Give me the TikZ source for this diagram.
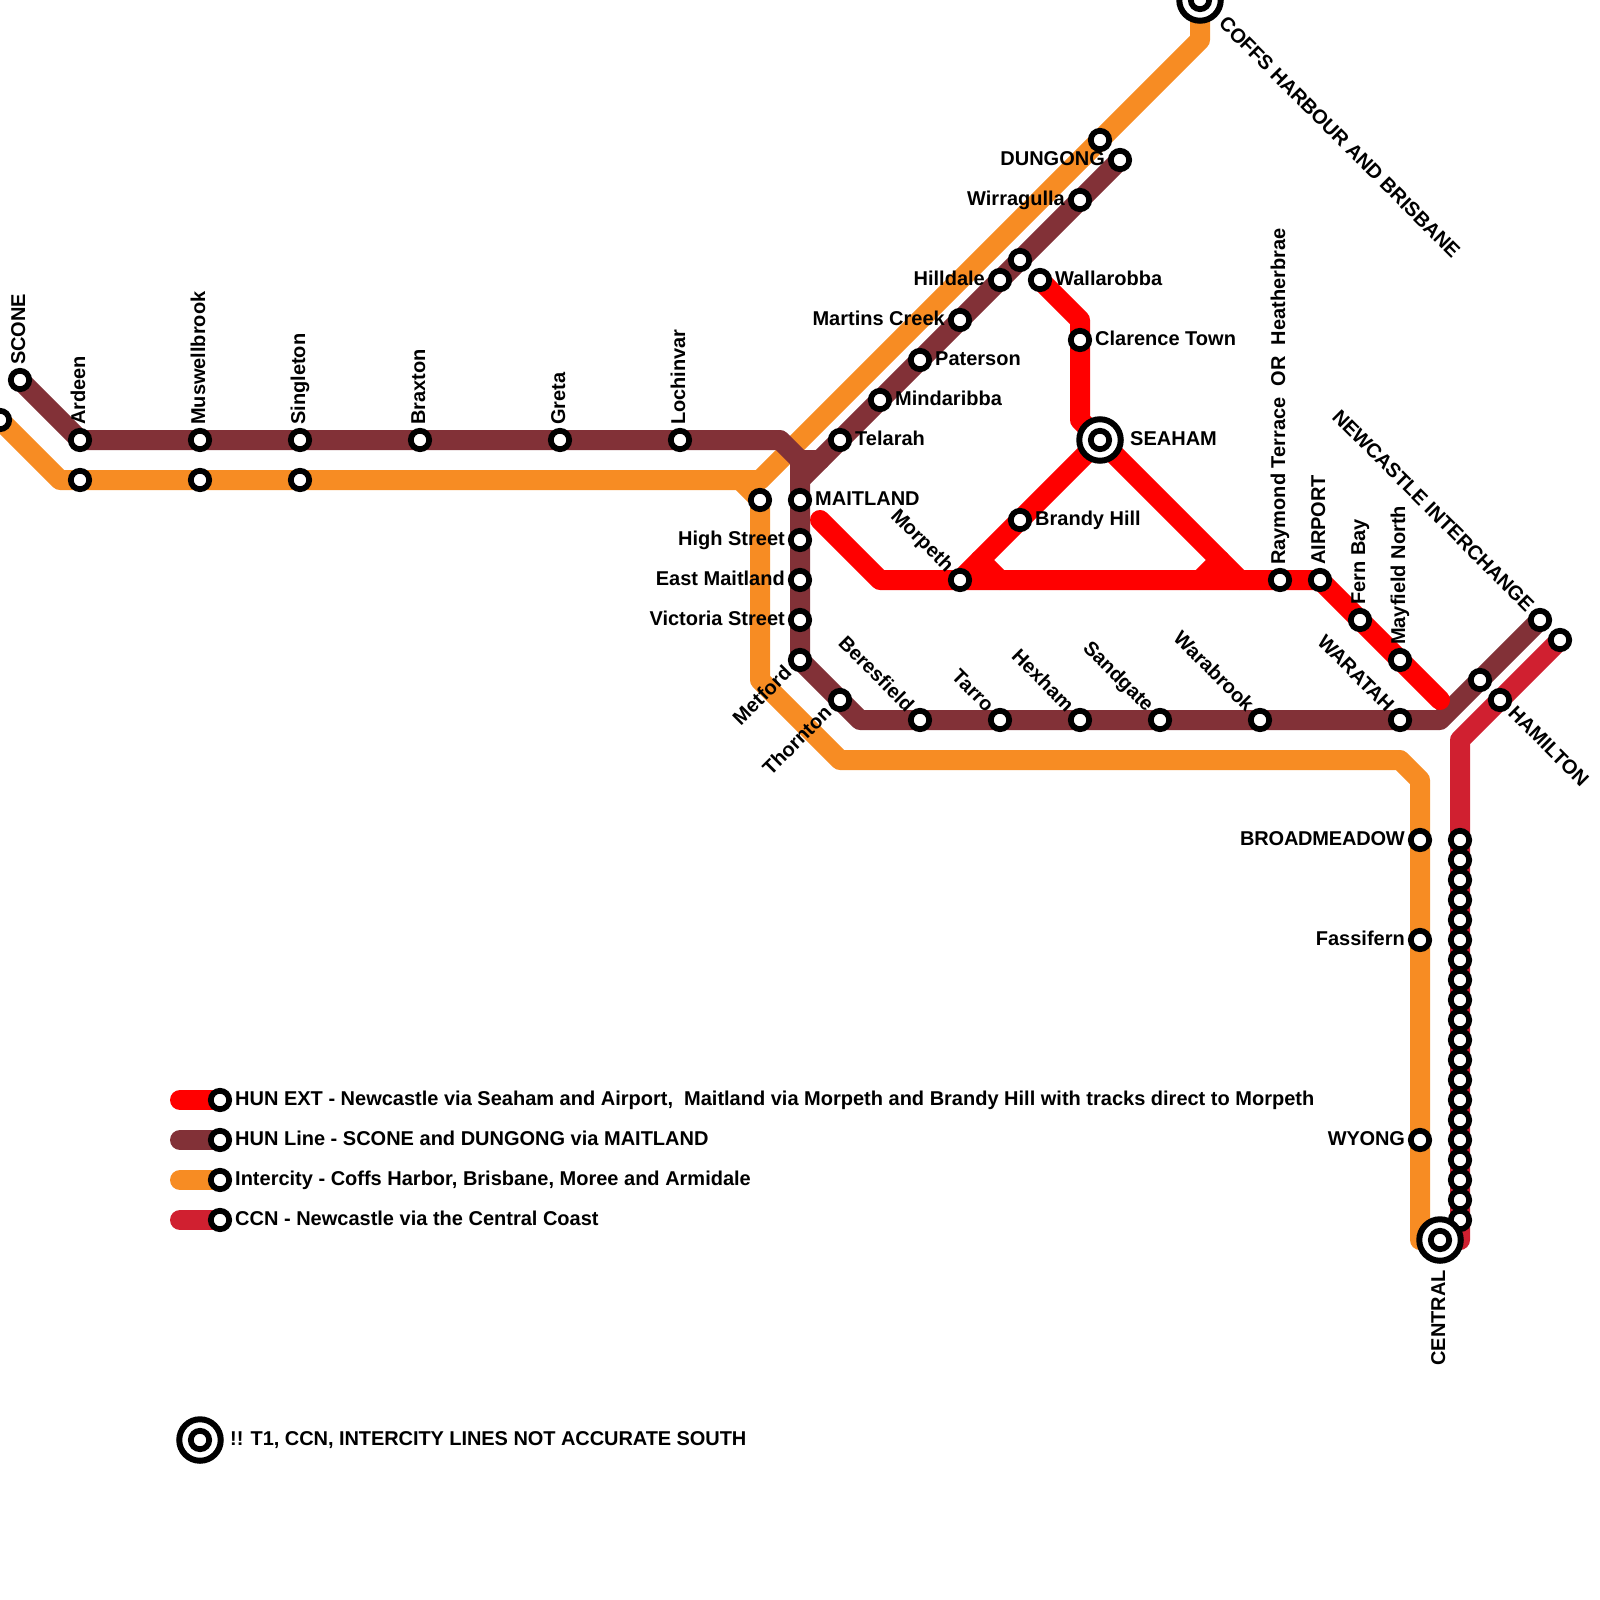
\documentclass[tikz,border=0pt]{standalone}
\usepackage{fontspec}
\setmainfont{Liberation Sans}
\usetikzlibrary{backgrounds}
\definecolor{cRed}{RGB}{255,0,0}
\definecolor{cMaroon}{RGB}{130,49,55}
\definecolor{cOrange}{RGB}{247,140,35}
\definecolor{cCrimson}{RGB}{208,32,48}
\tikzset{
  stationdot/.style={circle,draw=black,fill=white,line width=5.75pt,minimum size=18.4pt,inner sep=0pt,outer sep=0pt},
  bigring/.style={circle,draw=black,fill=white,line width=6pt,minimum size=41.5pt,inner sep=0pt,outer sep=0pt},
  lbl/.style={font=\fontsize{20}{24}\selectfont\bfseries,inner sep=0pt,text=black},
  route/.style={line width=20pt,line cap=round,line join=round},
  lnred/.style={route,draw=cRed},
  lnmaroon/.style={route,draw=cMaroon},
  lnorange/.style={route,draw=cOrange},
  lncrim/.style={route,draw=cCrimson}
}
\newcommand\stn[3]{\node[stationdot] (#1) at (#2,#3) {};}
\newcommand\bigstn[3]{\node[bigring] (#1) at (#2,#3) {};\node[stationdot] (#1-in) at (#2,#3) {};}
% name, station, screen angle, anchor, signed offset along the text, text
\newcommand\lb[6]{\path (#2.center) ++({-(#3)}:#5) ++({90-(#3)}:{\ifnum#3=0 5.2\else 5\fi}) node[lbl,rotate=#3,anchor=#4] (#1) {#6};}
\newcommand\tight[2]{{\addfontfeature{LetterSpace=#1}#2}}
\begin{document}
\begin{tikzpicture}[x=1pt,y=-1pt]
\useasboundingbox (0,0) rectangle (1600,1600);
% --- bends
\coordinate (rA) at (820,520);
\coordinate (rB) at (880,580);
\coordinate (rC) at (1440,700);
\coordinate (rD) at (1080,320);
\coordinate (rE) at (1080,420);
\coordinate (rF) at (980,560);
\coordinate (rG) at (1000,580);
\coordinate (rH) at (1240,580);
\coordinate (rI) at (1220,560);
\coordinate (rJ) at (1200,580);
\coordinate (mA) at (780,440);
\coordinate (mB) at (800,460);
\coordinate (mC) at (820,460);
\coordinate (mD) at (800,480);
\coordinate (mE) at (860,720);
\coordinate (mF) at (1440,720);
\coordinate (oA) at (60,480);
\coordinate (oB) at (760,480);
\coordinate (oC) at (1200,40);
\coordinate (oD) at (740,480);
\coordinate (oE) at (760,680);
\coordinate (oF) at (840,760);
\coordinate (oG) at (1400,760);
\coordinate (oH) at (1420,780);
\coordinate (oI) at (1420,1240);
\coordinate (cA) at (1460,740);
\coordinate (cB) at (1460,1240);
\coordinate (k1) at (180,1100);
\coordinate (k2) at (180,1140);
\coordinate (k3) at (180,1180);
\coordinate (k4) at (180,1220);
% --- maroon stations
\stn{scone}{20}{380}
\stn{ardeen}{80}{440}
\stn{muswell}{200}{440}
\stn{singleton}{300}{440}
\stn{braxton}{420}{440}
\stn{greta}{560}{440}
\stn{lochinvar}{680}{440}
\stn{telarah}{840}{440}
\stn{mindaribba}{880}{400}
\stn{paterson}{920}{360}
\stn{martins}{960}{320}
\stn{hilldale}{1000}{280}
\stn{mx}{1020}{260}
\stn{wirragulla}{1080}{200}
\stn{dungong}{1120}{160}
\stn{maitland}{800}{500}
\stn{high}{800}{540}
\stn{east}{800}{580}
\stn{victoria}{800}{620}
\stn{metford}{800}{660}
\stn{thornton}{840}{700}
\stn{beresfield}{920}{720}
\stn{tarro}{1000}{720}
\stn{hexham}{1080}{720}
\stn{sandgate}{1160}{720}
\stn{warabrook}{1260}{720}
\stn{waratah}{1400}{720}
\stn{my}{1480}{680}
\stn{interchange}{1540}{620}
% --- red stations
\stn{wallarobba}{1040}{280}
\stn{clarence}{1080}{340}
\bigstn{seaham}{1100}{440}
\stn{brandy}{1020}{520}
\stn{morpeth}{960}{580}
\stn{raymond}{1280}{580}
\stn{airport}{1320}{580}
\stn{fern}{1360}{620}
\stn{mayfield}{1400}{660}
% --- orange stations
\stn{o0}{0}{420}
\stn{o1}{80}{480}
\stn{o2}{200}{480}
\stn{o3}{300}{480}
\stn{o4}{760}{500}
\stn{o5}{1100}{140}
\bigstn{coffs}{1200}{0}
\stn{broadmeadow}{1420}{840}
\stn{fassifern}{1420}{940}
\stn{wyong}{1420}{1140}
% --- crimson stations
\stn{hamilton}{1500}{700}
\stn{cend}{1560}{640}
\foreach \i [evaluate=\i as \yy using 840+20*\i] in {0,...,19}{
  \stn{cc\i}{1460}{\yy}
}
\bigstn{central}{1440}{1240}
% --- legend stations
\stn{key1}{220}{1100}
\stn{key2}{220}{1140}
\stn{key3}{220}{1180}
\stn{key4}{220}{1220}
\bigstn{keybig}{200}{1440}
% --- labels
\lb{t1}{telarah}{0}{base west}{15}{Telarah}
\lb{t2}{mindaribba}{0}{base west}{15}{Mindaribba}
\lb{t3}{paterson}{0}{base west}{15}{Paterson}
\lb{t4}{wallarobba}{0}{base west}{15}{Wallarobba}
\lb{t5}{clarence}{0}{base west}{15}{Clarence Town}
\lb{t6}{brandy}{0}{base west}{15}{Brandy Hill}
\lb{t7}{maitland}{0}{base west}{15}{MAITLAND}
\lb{t8}{seaham}{0}{base west}{30}{SEAHAM}
\lb{t9}{high}{0}{base east}{-15}{High Street}
\lb{t10}{east}{0}{base east}{-15}{East Maitland}
\lb{t11}{victoria}{0}{base east}{-15}{Victoria Street}
\lb{t12}{martins}{0}{base east}{-15}{Martins Creek}
\lb{t13}{hilldale}{0}{base east}{-15}{Hilldale}
\lb{t14}{wirragulla}{0}{base east}{-15}{Wirragulla}
\lb{t15}{dungong}{0}{base east}{-15}{DUNGONG}
\lb{t16}{broadmeadow}{0}{base east}{-15}{\tight{-1}{BROADMEADOW}}
\lb{t17}{fassifern}{0}{base east}{-15}{Fassifern}
\lb{t18}{wyong}{0}{base east}{-15}{\tight{-1}{WYONG}}
\lb{t19}{scone}{90}{base west}{15}{SCONE}
\lb{t20}{ardeen}{90}{base west}{15}{Ardeen}
\lb{t21}{muswell}{90}{base west}{15}{Muswellbrook}
\lb{t22}{singleton}{90}{base west}{15}{Singleton}
\lb{t23}{braxton}{90}{base west}{15}{Braxton}
\lb{t24}{greta}{90}{base west}{15}{Greta}
\lb{t25}{lochinvar}{90}{base west}{15}{Lochinvar}
\lb{t26}{raymond}{90}{base west}{15}{Raymond Terrace\ \ OR\ \ Heatherbrae}
\lb{t27}{airport}{90}{base west}{15}{AIRPORT}
\lb{t28}{fern}{90}{base west}{15}{Fern Bay}
\lb{t29}{mayfield}{90}{base west}{15}{Mayfield North}
\lb{t30}{central}{90}{base east}{-30}{CENTRAL}
\lb{t31}{morpeth}{-45}{base east}{-15}{Morpeth}
\lb{t32}{beresfield}{-45}{base east}{-15}{Beresfield}
\lb{t33}{tarro}{-45}{base east}{-15}{Tarro}
\lb{t34}{hexham}{-45}{base east}{-15}{Hexham}
\lb{t35}{sandgate}{-45}{base east}{-15}{Sandgate}
\lb{t36}{warabrook}{-45}{base east}{-15}{Warabrook}
\lb{t37}{waratah}{-45}{base east}{-15}{\tight{-1}{WARATAH}}
\lb{t38}{interchange}{-45}{base east}{-15}{\tight{-1}{NEWCASTLE INTERCHANGE}}
\lb{t39}{metford}{45}{base east}{-15}{Metford}
\lb{t40}{thornton}{45}{base east}{-15}{Thornton}
\lb{t41}{hamilton}{-45}{base west}{15}{HAMILTON}
\lb{t42}{coffs}{-45}{base west}{30}{\tight{-0.8}{COFFS HARBOUR AND BRISBANE}}
\lb{k1t}{key1}{0}{base west}{15}{HUN EXT - Newcastle via Seaham and Airport,\ \ Maitland via Morpeth and Brandy Hill with tracks direct to Morpeth}
\lb{k2t}{key2}{0}{base west}{15}{HUN Line - SCONE and DUNGONG via MAITLAND}
\lb{k3t}{key3}{0}{base west}{15}{Intercity - Coffs Harbor, Brisbane, Moree and Armidale}
\lb{k4t}{key4}{0}{base west}{15}{CCN - Newcastle via the Central Coast}
\lb{k5t}{keybig}{0}{base west}{30}{\tight{-0.4}{!! T1, CCN, INTERCITY LINES NOT ACCURATE SOUTH}}
% --- lines, beneath the stations
\begin{pgfonlayer}{background}
\draw[lnorange] (o0.center) -- (oA) -- (oB) -- (oC) -- (coffs.center);
\draw[lnorange] (oD) -- (o4.center) -- (oE) -- (oF) -- (oG) -- (oH) -- (oI) -- (central.center);
\draw[lncrim] (cend.center) -- (cA) -- (cB) -- (central.center);
\draw[lnmaroon] (scone.center) -- (ardeen.center) -- (mA) -- (mB) -- (metford.center) -- (mE) -- (mF) -- (interchange.center);
\draw[lnmaroon] (mD) -- (dungong.center);
\draw[lnmaroon] (mB) -- (mC);
\draw[lnred] (rA) -- (rB) -- (airport.center) -- (rC);
\draw[lnred] (wallarobba.center) -- (rD) -- (rE) -- (seaham.center);
\draw[lnred] (seaham.center) -- (morpeth.center);
\draw[lnred] (seaham.center) -- (rH);
\draw[lnred] (rF) -- (rG);
\draw[lnred] (rI) -- (rJ);
\draw[lnred] (k1) -- (key1.center);
\draw[lnmaroon] (k2) -- (key2.center);
\draw[lnorange] (k3) -- (key3.center);
\draw[lncrim] (k4) -- (key4.center);
\end{pgfonlayer}
\end{tikzpicture}
\end{document}
